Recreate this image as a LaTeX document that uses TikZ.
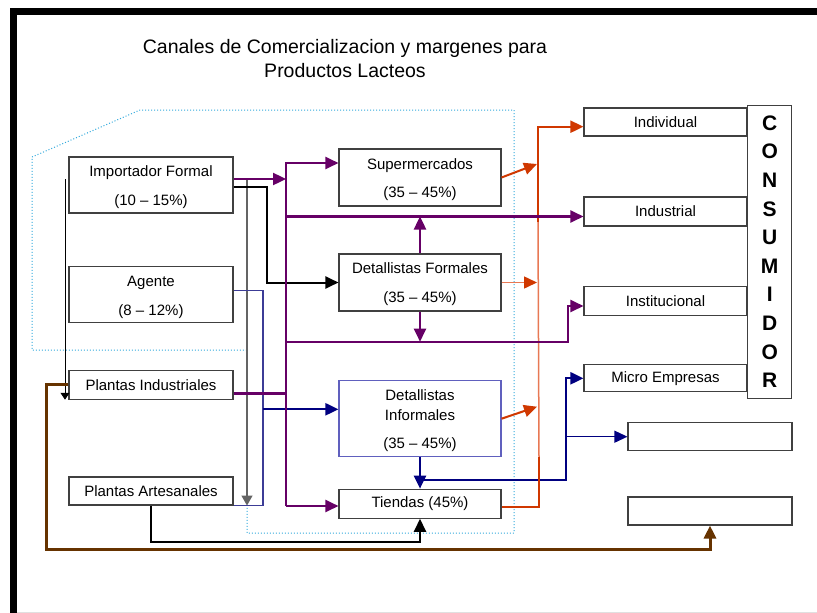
\documentclass[tikz,border=0pt]{standalone}
\usepackage{fontspec}
\setmainfont{Liberation Sans}
\usetikzlibrary{arrows.meta,calc}
\definecolor{pur}{RGB}{102,0,102}
\definecolor{nvy}{RGB}{0,0,128}
\definecolor{nvl}{RGB}{60,60,150}
\definecolor{rd}{RGB}{208,56,0}
\definecolor{sal}{RGB}{232,120,84}
\definecolor{brn}{RGB}{102,51,0}
\definecolor{dotc}{RGB}{51,170,221}
\definecolor{boxc}{RGB}{64,64,64}
\definecolor{dib}{RGB}{96,96,190}
\newcommand{\upstrut}{\rule{0pt}{16pt}}
\begin{document}
\begin{tikzpicture}[x=1pt,y=-1pt,
  >={Triangle[length=13pt,width=12pt]},
  box/.style={draw=boxc, line width=1.1pt, fill=white, inner sep=0pt, align=center,
    font=\fontsize{15}{18}\selectfont},
  pl/.style={draw=pur, line width=2.4pt},
  nv/.style={draw=nvy, line width=2.2pt},
  nvthin/.style={draw=nvy, line width=1.1pt},
  blk/.style={draw=black, line width=2pt},
  thinblk/.style={draw=black, line width=1pt},
  graylin/.style={draw={rgb,255:red,100;green,100;blue,100}, line width=1.2pt},
  brnl/.style={draw=brn, line width=3pt},
  rdl/.style={draw=rd, line width=2pt},
  sall/.style={draw=sal, line width=1.5pt},
  dotline/.style={draw=dotc, line width=1pt, dotted}]
\useasboundingbox (0,0) rectangle (817,613);
\fill[white] (0,0) rectangle (817,613);
% frame
\fill[black] (10,8) rectangle (17,613);
\fill[black] (10,8) rectangle (817,15);
\draw[black!12, line width=1pt] (17,612) -- (817,612);
% title
\node[font=\fontsize{19.5}{24}\selectfont, align=center] (title) at (345,58.5)
  {Canales de Comercializacion y margenes para\\Productos Lacteos};
% dotted region
\draw[dotline] (32,157) -- (140,110) -- (514,110) -- (514,533) -- (247,533) -- (247,350) -- (32,350) -- cycle;
% nodes
\node[box, minimum width=164, minimum height=56] (imp) at (151,185) {\upstrut Importador Formal\\[11pt](10 – 15\%)};
\node[box, minimum width=164, minimum height=56] (age) at (151,294.7) {\upstrut Agente\\[11pt](8 – 12\%)};
\node[box, minimum width=164, minimum height=29] (pind) at (151,384.7) {Plantas Industriales};
\node[box, minimum width=164, minimum height=28] (part) at (151,491) {Plantas Artesanales};
\node[box, minimum width=162, minimum height=57] (sup) at (420,177.5) {\upstrut Supermercados\\[10pt](35 – 45\%)};
\node[box, minimum width=162, minimum height=57] (dfor) at (420,282.5) {\rule{0pt}{14pt}Detallistas Formales\\[11pt](35 – 45\%)};
\node[box, draw=dib, minimum width=162, minimum height=76] (dinf) at (420,418.7) {\rule{0pt}{14pt}Detallistas\\[2pt]Informales\\[10pt](35 – 45\%)};
\node[box, minimum width=162, minimum height=29] (tien) at (420,503.7) {Tiendas (45\%)};
\node[box, minimum width=163, minimum height=28] (indiv) at (665.5,122) {Individual};
\node[box, minimum width=163, minimum height=29] (indus) at (665.5,211.5) {Industrial};
\node[box, minimum width=163, minimum height=28.6] (inst) at (665.5,301) {Institucional};
\node[box, minimum width=163, minimum height=27] (micro) at (665.5,378.3) {Micro Empresas};
\node[box, minimum width=44, minimum height=293, font=\fontsize{21}{28.6}\selectfont\bfseries] (cons) at (769.7,251.7)
  {C\\O\\N\\S\\U\\M\\I\\D\\O\\R};
\node[box, minimum width=164, minimum height=28] (blank1) at (710,436.7) {};
\node[box, minimum width=164, minimum height=28] (blank2) at (710,511) {};
% junction coordinates
\coordinate (P1) at (286,163);
\coordinate (P2) at (286,506);
\coordinate (Q1) at (286,216.5);
\coordinate (Q2) at (286,341.7);
\coordinate (Q3) at (568,306);
\coordinate (H1) at (286,393.3);
\coordinate (N1) at (263,290.7);
\coordinate (N2) at (263,409.3);
\coordinate (N3) at (420,480);
\coordinate (N4) at (566,480);
\coordinate (N5) at (566,436.7);
\coordinate (B1) at (65,179);
\coordinate (G1) at (247,179);
\coordinate (K1) at (267,186.7);
\coordinate (K2) at (151,541.7);
\coordinate (W1) at (46,549.3);
\coordinate (R1) at (538,126.7);
\coordinate (R2) at (538,222);
\coordinate (R3) at (537,164);
\coordinate (R4) at (537,406.7);
\coordinate (R5) at (539,457);
\coordinate (R6) at (539,506.7);
% black / gray thin lines
\draw[thinblk, -{Triangle[length=7pt,width=9pt]}] (B1) -- (B1 |- pind.south);
\draw[graylin, -{Triangle[length=10pt,width=11pt]}] (G1) -- (G1 |- part.south);
% navy
\draw[nvthin, draw=nvl] (N1 -| age.east) -- (N1) -- (N1 |- part.south) -- (part.south east);
\draw[nv,->] (N2) -- (N2 -| dinf.west);
\draw[nv,->] (dinf.south) -- (tien.north);
\draw[nv,->] (N3) -- (N4) -- (N4 |- micro.west) -- (micro.west);
\draw[nvthin,->] (N5) -- (blank1.west);
% black thick
\draw[blk,->] (K1 -| imp.east) -- (K1) -- (K1 |- dfor.west) -- (dfor.west);
\draw[blk,->] (part.south) -- (K2) -- (K2 -| tien.south) -- (tien.south);
% orange
\draw[sall] (R2) -- (R5);
\draw[rdl,->] (R2) -- (R1) -- (R1 -| indiv.west);
\draw[rdl,->] (sup.east) -- (R3);
\draw[sall, -{Triangle[length=13pt,width=12pt,color=rd]}] (dfor.east) -- (dfor.east -| R3);
\draw[rdl,->] (dinf.east) -- (R4);
\draw[rdl] (R6 -| tien.east) -- (R6) -- (R5);
% purple
\draw[pl,->] (P2) -- (P1) -- (P1 -| sup.west);
\draw[pl,->] (P2) -- (P2 -| tien.west);
\draw[pl,->] (imp.east |- G1) -- (P1 |- G1);
\draw[pl,->] (Q1) -- (Q1 -| indus.west);
\draw[pl,->] (dfor.north) -- (dfor.north |- Q1);
\draw[pl,->] (dfor.south) -- (dfor.south |- Q2);
\draw[pl,->] (Q2) -- (Q2 -| Q3) -- (Q3) -- (Q3 -| inst.west);
\draw[pl] (H1 -| pind.east) -- (H1);
% brown
\draw[brnl,->] (pind.west) -- (W1 |- pind.west) -- (W1) -- (W1 -| blank2.south) -- (blank2.south);
\end{tikzpicture}
\end{document}
